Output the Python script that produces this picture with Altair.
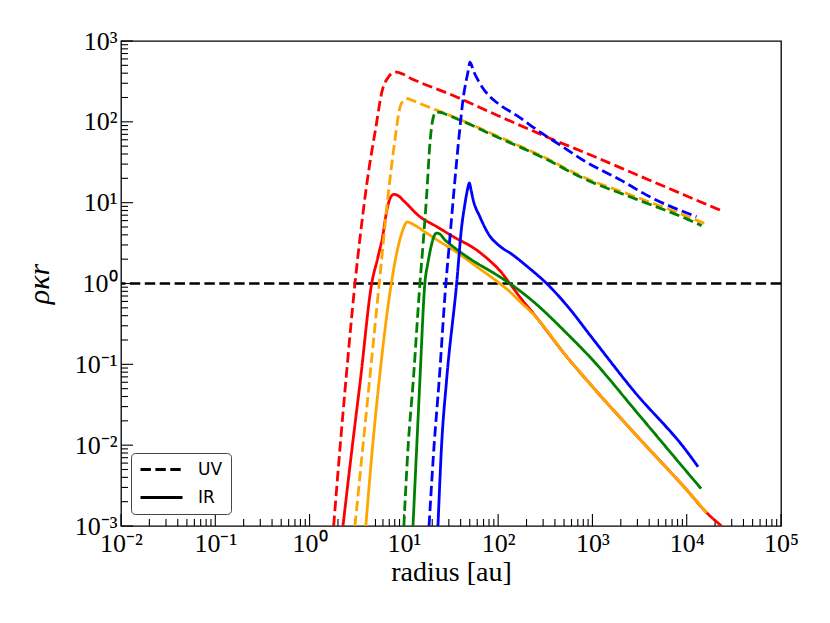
import json
import altair as alt
import pandas as pd

# ---------------- data ----------------
models = ["red", "orange", "green", "blue"]
colors = ["#ff0000", "#ffa500", "#008000", "#0000ff"]
kinds = ["UV", "IR"]

red_uv_x = [1.80, 2.11, 2.43, 3.03, 3.44, 4.24, 5.0, 5.9, 6.84, 7.5, 8.25, 9.5, 12, 15, 30.8, 100, 300, 1000, 3000, 10000, 22500]
red_uv_y = [0.001, 0.0097, 0.064, 1.0, 3.8, 25, 80, 245, 357, 400, 412, 395, 342, 306, 220, 119, 68, 38, 22, 12.1, 8.1]

orange_uv_x = [3.03, 3.68, 4.33, 5.48, 6.84, 7.95, 9.1, 9.9, 10.9, 12.5, 15, 30, 100, 300, 800, 3000, 10000, 15600]
orange_uv_y = [0.001, 0.0097, 0.064, 1.0, 13, 54, 152, 182, 193, 183, 167, 122, 66, 37, 20.8, 11.6, 6.8, 5.5]

green_uv_x = [10.0, 11.1, 12.6, 14.8, 16.0, 17.5, 18.9, 20.2, 21.9, 25, 30, 100, 300, 800, 3000, 10000, 14400]
green_uv_y = [0.001, 0.0097, 0.064, 1.0, 3.1, 13, 54, 105, 132, 130, 120, 64, 36, 20.0, 10.9, 6.3, 5.2]

blue_uv_x = [18.5, 20.9, 23.7, 27.9, 30.4, 33.8, 39.4, 42.7, 46, 48.2, 50.2, 55, 65, 80, 100, 157, 277, 500, 798, 2000, 4070, 12700]
blue_uv_y = [0.001, 0.0097, 0.064, 1.0, 3.1, 13, 86, 200, 330, 430, 547, 420, 290, 210, 168, 120, 75, 48, 33.5, 19, 11.8, 6.7]

red_ir_x = [2.26, 2.84, 3.46, 4.56, 5.3, 6.04, 6.4, 6.8, 7.25, 7.85, 8.6, 10, 14.8, 22, 33.4, 59, 80, 104, 133, 170, 235, 532, 1000, 3000, 10000, 16300, 23400]
red_ir_y = [0.001, 0.0097, 0.064, 1.0, 2.1, 4.2, 6.6, 9.4, 11.7, 12.7, 12.3, 10.5, 6.7, 5.1, 3.8, 2.6, 1.95, 1.45, 1.0, 0.68, 0.43, 0.125, 0.053, 0.0128, 0.0028, 0.00146, 0.001]

orange_ir_x = [3.95, 4.66, 5.48, 7.36, 8.69, 9.88, 10.4, 10.9, 11.8, 14, 17.5, 25, 33.4, 60, 104, 135, 170, 235, 532, 1000, 3000, 10000, 16300]
orange_ir_y = [0.001, 0.0097, 0.064, 1.0, 2.85, 4.8, 5.5, 5.8, 5.6, 5.0, 4.2, 3.2, 2.6, 1.6, 1.0, 0.78, 0.6, 0.42, 0.125, 0.053, 0.0128, 0.0028, 0.00146]

green_ir_x = [12.5, 13.7, 14.8, 16.7, 18.0, 19.5, 20.8, 22.2, 24, 27, 33.4, 50, 104, 133, 235, 532, 1000, 3000, 10000, 14200]
green_ir_y = [0.001, 0.0097, 0.064, 1.0, 1.8, 2.9, 3.8, 4.2, 4.1, 3.5, 2.85, 2.03, 1.21, 1.0, 0.6, 0.243, 0.114, 0.025, 0.0047, 0.0029]

blue_ir_x = [23, 25.1, 28.4, 36.3, 41, 44, 46.4, 48.5, 49.4, 51.5, 54.5, 64, 80, 104, 140, 200, 327, 532, 1000, 2700, 10000, 13200]
blue_ir_y = [0.001, 0.0097, 0.064, 1.0, 5.0, 9.0, 13, 16.5, 17.5, 14.5, 10.7, 6.7, 4.0, 2.9, 2.3, 1.65, 1.0, 0.54, 0.21, 0.048, 0.0084, 0.0054]

ref_line_y = [1.0]

x_major = [0.01, 0.1, 1, 10, 100, 1000, 10000, 100000]
x_labels = ["10⁻²", "10⁻¹", "10⁰", "10¹", "10²", "10³", "10⁴", "10⁵"]
y_major = [0.001, 0.01, 0.1, 1, 10, 100, 1000]
y_labels = ["10⁻³", "10⁻²", "10⁻¹", "10⁰", "10¹", "10²", "10³"]
minor_mult = [2, 3, 4, 5, 6, 7, 8, 9]
x_minor = [m * v for v in x_major[:-1] for m in minor_mult]
y_minor = [m * v for v in y_major[:-1] for m in minor_mult]

series = [
    ("red", "UV", red_uv_x, red_uv_y), ("red", "IR", red_ir_x, red_ir_y),
    ("orange", "UV", orange_uv_x, orange_uv_y), ("orange", "IR", orange_ir_x, orange_ir_y),
    ("green", "UV", green_uv_x, green_uv_y), ("green", "IR", green_ir_x, green_ir_y),
    ("blue", "UV", blue_uv_x, blue_uv_y), ("blue", "IR", blue_ir_x, blue_ir_y),
]
rows = []
for i, (m, k, xs, ys) in enumerate(series):
    for xv, yv in zip(xs, ys):
        rows.append({"x": xv, "y": yv, "model": m, "kind": k, "series": f"{i}"})
df = pd.DataFrame(rows)

# ---------------- chart ----------------
W, H = 660, 485
MAJOR, MINOR = 12, 7
SERIF = "Liberation Serif"
DASH = [10.4, 4.5]
xs_ = alt.Scale(type="log", domain=[0.01, 1e5], nice=False)
ys_ = alt.Scale(type="log", domain=[1e-3, 1e3], nice=False)

x_expr = json.dumps(x_labels, ensure_ascii=False) + "[round(log(datum.value)/LN10)+2]"
y_expr = json.dumps(y_labels, ensure_ascii=False) + "[round(log(datum.value)/LN10)+3]"

x_label_axis = alt.Axis(values=x_major, labelExpr=x_expr, ticks=False, domain=False, grid=False,
                        labelFont=SERIF, labelFontSize=26, labelColor="black", labelPadding=4,
                        labelFlush=False, labelOverlap=False,
                        title="radius [au]", titleFont=SERIF, titleFontSize=28,
                        titleFontWeight="normal", titleColor="black", titlePadding=2)
y_label_axis = alt.Axis(values=y_major, labelExpr=y_expr, ticks=False, domain=False, grid=False,
                        labelFont=SERIF, labelFontSize=26, labelColor="black", labelPadding=4,
                        labelFlush=False, labelOverlap=False,
                        title="ρκr", titleFont=SERIF, titleFontSize=30, titleFontStyle="italic",
                        titleFontWeight="normal", titleColor="black", titlePadding=20)

lines = alt.Chart(df).mark_line(strokeWidth=2.8, clip=True, interpolate="monotone").encode(
    x=alt.X("x:Q", scale=xs_, axis=x_label_axis),
    y=alt.Y("y:Q", scale=ys_, axis=y_label_axis),
    color=alt.Color("model:N", scale=alt.Scale(domain=models, range=colors), legend=None),
    strokeDash=alt.StrokeDash("kind:N", scale=alt.Scale(domain=kinds, range=[DASH, [1, 0]]),
                              legend=alt.Legend(title=None, orient="none", legendX=10, legendY=412,
                                                direction="vertical",
                                                symbolType="M-1,0H5", symbolSize=196,
                                                symbolStrokeColor="black", symbolStrokeWidth=2.8,
                                                labelFont="DejaVu Sans", labelFontSize=17,
                                                labelColor="black", labelOffset=42,
                                                rowPadding=10, padding=8,
                                                strokeColor="#444", cornerRadius=4,
                                                fillColor="white")),
    detail="series:N",
)

# inward-pointing tick marks on the bottom and left spines
xt_major = alt.Chart(pd.DataFrame({"v": x_major})).mark_rule(color="black", strokeWidth=1.1).encode(
    x=alt.X("v:Q", scale=xs_, axis=None), y=alt.value(H), y2=alt.value(H - MAJOR))
xt_minor = alt.Chart(pd.DataFrame({"v": x_minor})).mark_rule(color="black", strokeWidth=1.1).encode(
    x=alt.X("v:Q", scale=xs_, axis=None), y=alt.value(H), y2=alt.value(H - MINOR))
yt_major = alt.Chart(pd.DataFrame({"v": y_major})).mark_rule(color="black", strokeWidth=1.1).encode(
    y=alt.Y("v:Q", scale=ys_, axis=None), x=alt.value(0), x2=alt.value(MAJOR))
yt_minor = alt.Chart(pd.DataFrame({"v": y_minor})).mark_rule(color="black", strokeWidth=1.1).encode(
    y=alt.Y("v:Q", scale=ys_, axis=None), x=alt.value(0), x2=alt.value(MINOR))

ref = alt.Chart(pd.DataFrame({"y": ref_line_y})).mark_rule(
    color="black", strokeWidth=2.3, strokeDash=DASH
).encode(y=alt.Y("y:Q", scale=ys_, axis=None))

chart = alt.layer(xt_major, xt_minor, yt_major, yt_minor, ref, lines).resolve_axis(
    x="independent", y="independent"
).properties(
    width=W, height=H,
    autosize=alt.AutoSizeParams(type="none"),
    padding={"left": 113, "top": 33, "right": 41, "bottom": 89},
).configure_view(stroke="black", strokeWidth=1.3)

chart.save("out.html", embed_options={"renderer": "svg", "actions": False})
